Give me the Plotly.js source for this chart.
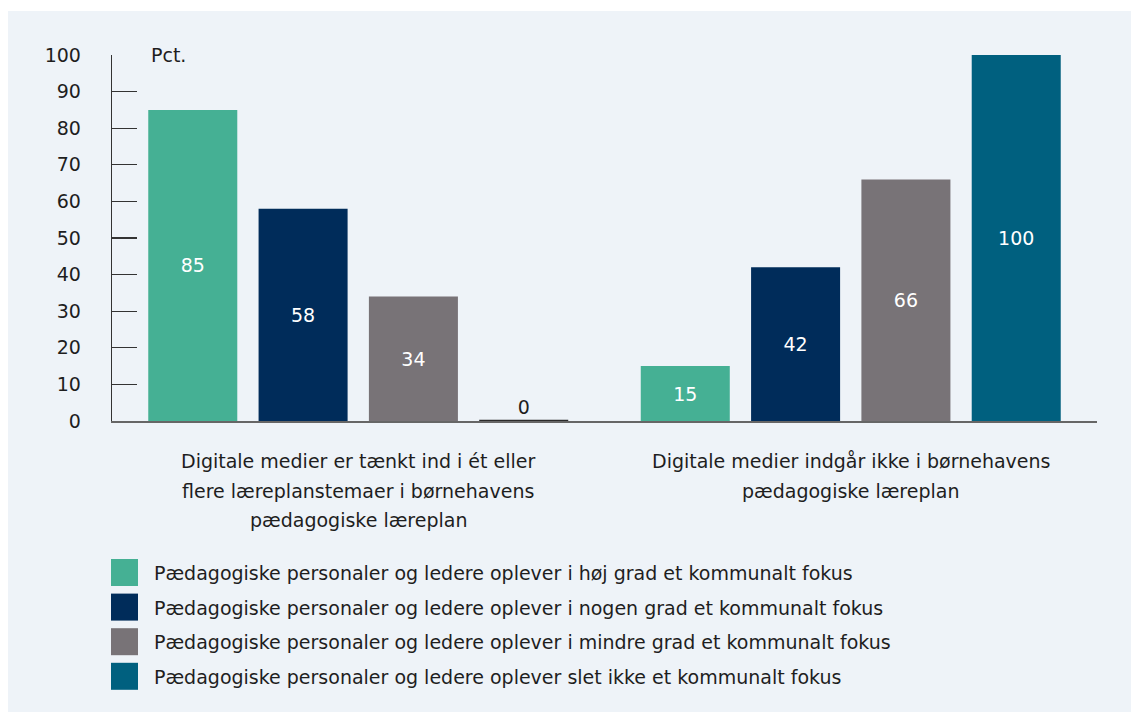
<!DOCTYPE html>
<html>
<head>
<meta charset="utf-8">
<script src="https://cdn.plot.ly/plotly-3.0.1.min.js"></script>
<style>html,body{margin:0;padding:0;background:#fff;}#chart{width:1131px;height:712px;}</style>
</head>
<body>
<div id="chart"></div>
<script>
// ---- Data ----
const categories = [
  "Digitale medier er tænkt ind i ét eller<br>flere læreplanstemaer i børnehavens<br>pædagogiske læreplan",
  "Digitale medier indgår ikke i børnehavens<br>pædagogiske læreplan"
];
const seriesNames = [
  "Pædagogiske personaler og ledere oplever i høj grad et kommunalt fokus",
  "Pædagogiske personaler og ledere oplever i nogen grad et kommunalt fokus",
  "Pædagogiske personaler og ledere oplever i mindre grad et kommunalt fokus",
  "Pædagogiske personaler og ledere oplever slet ikke et kommunalt fokus"
];
const hojGrad = [85, 15];
const nogenGrad = [58, 42];
const mindreGrad = [34, 66];
const sletIkke = [0, 100];
const yTickVals = [0, 10, 20, 30, 40, 50, 60, 70, 80, 90, 100];
const yUnit = "Pct.";

// ---- Styling ----
const colors = ["#45b094", "#002c5a", "#787377", "#00607f"];
const FONT = "DejaVu Sans";
const TXT = "#1e1e1e";
const W = 1131, H = 712;
const M = {l: 112, r: 34, t: 55, b: 291};
const pw = W - M.l - M.r, ph = H - M.t - M.b;
const xp = px => (px - M.l) / pw;
const yp = py => (H - M.b - py) / ph;

const allValues = [hojGrad, nogenGrad, mindreGrad, sletIkke];
const traces = allValues.map((vals, i) => {
  const isZero = vals.map(v => v === 0);
  return {
    type: 'bar',
    name: seriesNames[i],
    x: categories,
    y: vals,
    text: vals.map(String),
    textposition: vals.map(v => v === 0 ? 'outside' : 'inside'),
    insidetextanchor: 'middle',
    textfont: {family: FONT, size: 19},
    insidetextfont: {family: FONT, size: 19, color: '#ffffff'},
    outsidetextfont: {family: FONT, size: 19, color: TXT},
    cliponaxis: false,
    marker: {
      color: colors[i],
      line: {color: isZero.map(z => z ? '#2b2b2b' : colors[i]), width: isZero.map(z => z ? 2.5 : 0)}
    },
    hoverinfo: 'none',
    showlegend: false
  };
});

const shapes = [{
  type: 'rect', xref: 'paper', yref: 'paper', layer: 'below',
  x0: xp(8), x1: xp(W + 5), y0: yp(11), y1: yp(H + 5),
  fillcolor: '#eef3f8', line: {width: 0}
}];
const annotations = [{
  xref: 'paper', yref: 'paper', x: xp(149), y: yp(55), xanchor: 'left', yanchor: 'middle',
  text: yUnit, showarrow: false, font: {family: FONT, size: 19, color: TXT}
}];

// category labels (line by line for line spacing)
categories.forEach(c => {
  c.split('<br>').forEach((line, i) => {
    annotations.push({
      xref: 'x', yref: 'paper', x: c, y: yp(461 + i * 29.5), xanchor: 'center', yanchor: 'middle',
      text: line, showarrow: false, font: {family: FONT, size: 19, color: TXT}
    });
  });
});

// legend
seriesNames.forEach((n, i) => {
  const top = 559 + i * 34.6;
  shapes.push({
    type: 'rect', xref: 'paper', yref: 'paper',
    x0: xp(111), x1: xp(138), y0: yp(top), y1: yp(top + 27),
    fillcolor: colors[i], line: {width: 0}
  });
  annotations.push({
    xref: 'paper', yref: 'paper', x: xp(152), y: yp(top + 14), xanchor: 'left', yanchor: 'middle',
    text: n, showarrow: false, font: {family: FONT, size: 19, color: TXT}
  });
});

const layout = {
  width: W, height: H,
  margin: M,
  paper_bgcolor: '#ffffff',
  plot_bgcolor: 'rgba(0,0,0,0)',
  barmode: 'group',
  bargap: 0.104,
  bargroupgap: 0.193,
  showlegend: false,
  font: {family: FONT, size: 19, color: TXT},
  xaxis: {
    type: 'category',
    showticklabels: false,
    ticks: '',
    showline: true, linecolor: '#666666', linewidth: 1.5,
    showgrid: false, zeroline: false,
    layer: 'below traces',
    fixedrange: true
  },
  yaxis: {
    range: [0, 100],
    tickvals: yTickVals,
    ticktext: yTickVals.map(String),
    ticks: 'inside', ticklen: 25, tickwidth: 1.3, tickcolor: '#333333',
    showline: true, linecolor: '#333333', linewidth: 1.3,
    showgrid: false, zeroline: false,
    ticklabelstandoff: 26,
    tickfont: {family: FONT, size: 19, color: TXT},
    layer: 'below traces',
    fixedrange: true
  },
  shapes: shapes,
  annotations: annotations
};

Plotly.newPlot('chart', traces, layout, {displayModeBar: false, staticPlot: true});
</script>
</body>
</html>
